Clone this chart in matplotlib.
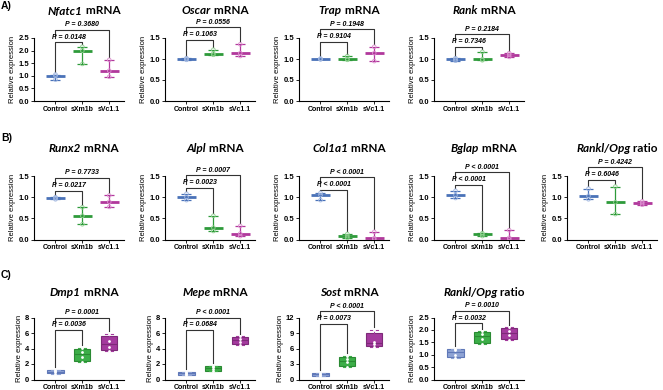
import matplotlib.pyplot as plt
import numpy as np

plt.rcParams['font.family'] = ['Liberation Sans', 'DejaVu Sans']

groups = ["Control", "sXm1b", "sVc1.1"]

# rows A and B: three replicates per group (min, median, max)
nfatc1 = [[0.85, 1.0, 1.05], [1.47, 2.0, 2.15], [0.96, 1.2, 1.63]]
oscar = [[0.98, 1.0, 1.02], [1.10, 1.13, 1.22], [1.07, 1.14, 1.35]]
trap = [[0.99, 1.0, 1.01], [0.98, 1.0, 1.07], [0.95, 1.14, 1.29]]
rank = [[0.96, 0.99, 1.02], [0.97, 0.99, 1.17], [1.05, 1.10, 1.14]]
runx2 = [[0.95, 0.98, 1.0], [0.36, 0.56, 0.76], [0.77, 0.89, 1.04]]
alpl = [[0.93, 1.0, 1.08], [0.20, 0.28, 0.56], [0.08, 0.14, 0.32]]
col1a1 = [[0.93, 1.05, 1.10], [0.04, 0.08, 0.13], [0.0, 0.03, 0.18]]
bglap = [[0.98, 1.05, 1.15], [0.08, 0.12, 0.15], [0.0, 0.04, 0.22]]
rankl_opg_b = [[0.95, 1.03, 1.20], [0.60, 0.88, 1.25], [0.82, 0.86, 0.90]]

# row C: four replicates per group (box plots)
dmp1 = [[0.75, 0.95, 1.05, 1.25], [2.2, 2.95, 3.55, 4.1], [3.7, 4.2, 5.0, 5.9]]
mepe = [[0.55, 0.75, 0.85, 1.0], [1.05, 1.4, 1.6, 1.8], [4.5, 4.9, 5.2, 5.6]]
sost = [[0.7, 0.95, 1.05, 1.3], [2.5, 3.3, 3.9, 4.6], [6.3, 6.9, 7.3, 9.6]]
rankl_opg_c = [[0.85, 1.0, 1.2, 1.25], [1.42, 1.65, 1.85, 1.95], [1.6, 1.8, 1.95, 2.1]]

# p values: (control vs sXm1b, control vs sVc1.1)
p_nfatc1 = ["P = 0.0148", "P = 0.3680"]
p_oscar = ["P = 0.1063", "P = 0.0556"]
p_trap = ["P = 0.9104", "P = 0.1948"]
p_rank = ["P = 0.7346", "P = 0.2184"]
p_runx2 = ["P = 0.0217", "P = 0.7733"]
p_alpl = ["P = 0.0023", "P = 0.0007"]
p_col1a1 = ["P < 0.0001", "P < 0.0001"]
p_bglap = ["P < 0.0001", "P < 0.0001"]
p_rankl_b = ["P = 0.6046", "P = 0.4242"]
p_dmp1 = ["P = 0.0036", "P = 0.0001"]
p_mepe = ["P = 0.0684", "P < 0.0001"]
p_sost = ["P = 0.0073", "P < 0.0001"]
p_rankl_c = ["P = 0.0032", "P = 0.0010"]

line_cols = ['#4a72b8', '#2e9a3a', '#b1389c']
pt_cols = ['#9fb6e0', '#8fd08f', '#dc8fcf']
box_face = ['#8ea3d4', '#3cae48', '#a43a9e']
box_edge = ['#5f78b8', '#2a8a33', '#7d2a78']

W, H = 663, 390
fig = plt.figure(figsize=(W / 100, H / 100), dpi=100)

cols_x = [34, 165, 299, 434, 567]
rows_y = {'A': (38, 101), 'B': (176, 239.5), 'C': (317.5, 379.5)}
title_y = {'A': 11, 'B': 148, 'C': 292}
ax_w = 90


def make_ax(row, col):
    top, bot = rows_y[row]
    x = cols_x[col]
    ax = fig.add_axes([x / W, 1 - bot / H, ax_w / W, (bot - top) / H])
    for s in ['top', 'right']:
        ax.spines[s].set_visible(False)
    for s in ['left', 'bottom']:
        ax.spines[s].set_linewidth(0.8)
    ax.tick_params(axis='both', length=2, width=0.6, pad=1.5)
    ax.set_ylabel("Relative expression", fontsize=5.5, labelpad=1.5)
    return ax


def set_axes(ax, ticks, fmt):
    ax.set_xlim(-0.8, 2.55)
    ax.set_xticks([0, 1, 2])
    ax.set_xticklabels(groups, fontsize=5, fontweight='bold')
    ax.set_ylim(ticks[0], ticks[-1])
    ax.set_yticks(ticks)
    ax.set_yticklabels([fmt.format(t) for t in ticks], fontsize=5.5, fontweight='bold')


def brackets(ax, tops, pvals, frac, ymax):
    gap = 0.04 * ymax
    y1 = frac * ymax
    y2 = y1 + 0.2 * ymax
    kw = dict(color='#333333', lw=0.8, clip_on=False)
    ax.plot([0, 0, 1, 1], [tops[0] + gap, y1, y1, tops[1] + gap], **kw)
    ax.plot([0, 0, 2, 2], [y1 + 0.07 * ymax, y2, y2, tops[2] + gap], **kw)
    tk = dict(ha='center', va='bottom', fontsize=5, fontweight='bold', style='italic', clip_on=False)
    ax.text(0.5, y1 + 0.025 * ymax, pvals[0], **tk)
    ax.text(1.0, y2 + 0.025 * ymax, pvals[1], **tk)


def dot_panel(row, col, data, pvals, frac):
    ax = make_ax(row, col)
    tops = []
    for i, vals in enumerate(data):
        med = np.median(vals)
        lo, hi = min(vals), max(vals)
        ax.errorbar(i, med, yerr=[[med - lo], [hi - med]], color=line_cols[i], lw=0.9,
                    capsize=3.5, capthick=0.9)
        ax.plot([i - 0.36, i + 0.36], [med, med], color=line_cols[i], lw=2, solid_capstyle='butt')
        ax.scatter([i] * len(vals), vals, s=7, facecolors='none', edgecolors=pt_cols[i],
                   linewidths=0.6, zorder=3)
        tops.append(hi)
    ticks = [0, 0.5, 1.0, 1.5] if max(tops) < 1.5 else [0, 0.5, 1.0, 1.5, 2.0, 2.5]
    set_axes(ax, ticks, "{:.1f}")
    brackets(ax, tops, pvals, frac, ticks[-1])
    return ax


def box_panel(row, col, data, pvals, frac, ticks):
    ax = make_ax(row, col)
    stats = []
    for vals in data:
        q1, med, q3 = np.percentile(vals, [25, 50, 75], method='weibull')
        stats.append(dict(med=med, q1=q1, q3=q3, whislo=min(vals), whishi=max(vals), fliers=[]))
    bp = ax.bxp(stats, positions=[0, 1, 2], widths=0.6, patch_artist=True, showfliers=False,
                capwidths=0.3)
    for i in range(3):
        bp['boxes'][i].set(facecolor=box_face[i], edgecolor=box_edge[i], lw=0.8)
        bp['medians'][i].set(color=box_edge[i], lw=0.8)
        for k in (2 * i, 2 * i + 1):
            bp['whiskers'][k].set(color=box_face[i], lw=0.8)
            bp['caps'][k].set(color=box_face[i], lw=0.8)
        ax.scatter([i] * len(data[i]), data[i], s=4, color='white', zorder=3, lw=0)
    set_axes(ax, ticks, "{:g}" if ticks[-1] > 3 else "{:.1f}")
    brackets(ax, [max(d) for d in data], pvals, frac, ticks[-1])
    return ax


def title(row, col, segs, size=8.5):
    r = fig.canvas.get_renderer()
    xc = cols_x[col] + 50
    yc = 1 - title_y[row] / H
    texts = []
    for s, it in segs:
        t = fig.text(0, yc, s, fontsize=size, fontweight='bold', style='italic' if it else 'normal',
                     family=['Lato', 'DejaVu Sans'], va='center', ha='left')
        texts.append(t)
    widths = [t.get_window_extent(renderer=r).width for t in texts]
    x = xc - sum(widths) / 2
    for t, w in zip(texts, widths):
        t.set_x(x / W)
        x += w


dot_panel('A', 0, nfatc1, p_nfatc1, 0.93)
dot_panel('A', 1, oscar, p_oscar, 0.97)
dot_panel('A', 2, trap, p_trap, 0.94)
dot_panel('A', 3, rank, p_rank, 0.86)

dot_panel('B', 0, runx2, p_runx2, 0.77)
dot_panel('B', 1, alpl, p_alpl, 0.81)
dot_panel('B', 2, col1a1, p_col1a1, 0.78)
dot_panel('B', 3, bglap, p_bglap, 0.86)
dot_panel('B', 4, rankl_opg_b, p_rankl_b, 0.94)

box_panel('C', 0, dmp1, p_dmp1, 0.8, [0, 2, 4, 6, 8])
box_panel('C', 1, mepe, p_mepe, 0.8, [0, 2, 4, 6, 8])
box_panel('C', 2, sost, p_sost, 0.9, [0, 3, 6, 9, 12])
box_panel('C', 3, rankl_opg_c, p_rankl_c, 0.91, [0, 0.5, 1.0, 1.5, 2.0, 2.5])

title('A', 0, [("Nfatc1", True), (" mRNA", False)])
title('A', 1, [("Oscar", True), (" mRNA", False)])
title('A', 2, [("Trap", True), (" mRNA", False)])
title('A', 3, [("Rank", True), (" mRNA", False)])
title('B', 0, [("Runx2", True), (" mRNA", False)])
title('B', 1, [("Alpl", True), (" mRNA", False)])
title('B', 2, [("Col1a1", True), (" mRNA", False)])
title('B', 3, [("Bglap", True), (" mRNA", False)])
title('B', 4, [("Rankl/Opg", True), (" ratio", False)])
title('C', 0, [("Dmp1", True), (" mRNA", False)])
title('C', 1, [("Mepe", True), (" mRNA", False)])
title('C', 2, [("Sost", True), (" mRNA", False)])
title('C', 3, [("Rankl/Opg", True), (" ratio", False)])

for lab, y in [("A)", 6), ("B)", 138), ("C)", 275)]:
    fig.text(1 / W, 1 - y / H, lab, fontsize=7.5, fontweight='bold', va='center', ha='left')

fig.savefig("out.png", dpi=100)
